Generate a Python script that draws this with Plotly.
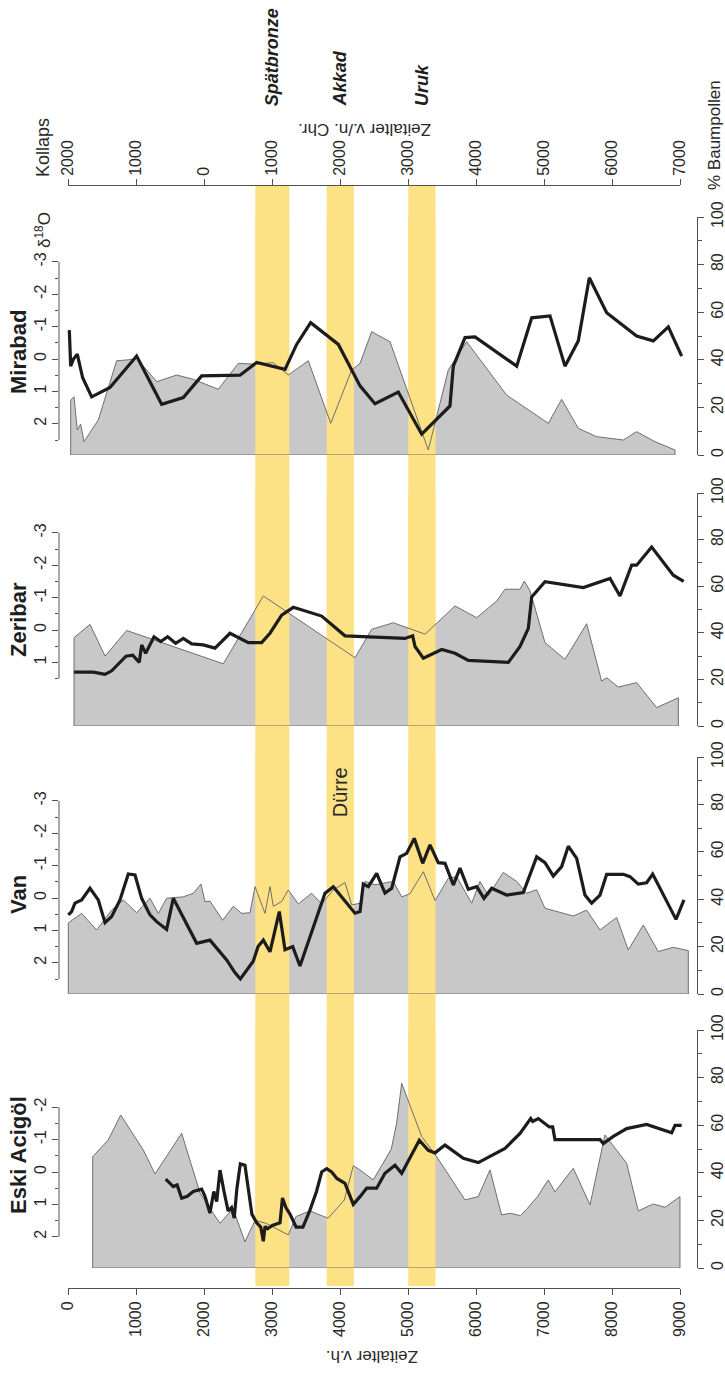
import plotly.graph_objects as go

W, H = 725, 1373

def px(x):
    return x / W

def py(y):
    return 1 - y / H

# ---------------- data ----------------
BAND_NAMES = ["Spätbronze", "Akkad", "Uruk"]
BAND_START = [2750, 3800, 5000]
BAND_END = [3250, 4200, 5400]

AGE_TICKS = [0, 1000, 2000, 3000, 4000, 5000, 6000, 7000, 8000, 9000]
AGE_TICK_LABELS = ["0", "1000", "2000", "3000", "4000", "5000", "6000", "7000", "8000", "9000"]
CHR_TICK_LABELS = ["2000", "1000", "0", "1000", "2000", "3000", "4000", "5000", "6000", "7000"]

PANEL_NAMES = ["Mirabad", "Zeribar", "Van", "Eski Acigöl"]

mirabad_pollen_age = [35, 84, 132, 181, 231, 441, 711, 882, 1005, 1300, 1594, 1838, 2206, 2500, 2721, 3015,
                      3235, 3529, 3859, 4167, 4290, 4461, 4731, 5294, 5588, 5858, 6446, 7059, 7255, 7500,
                      7770, 8162, 8358, 8627, 8922]
mirabad_pollen = [23, 24.5, 10.5, 13, 5.6, 14.7, 39.6, 40, 40.6, 30.8, 33.6, 31.8, 27.6, 38.5, 38.2, 38.8,
                  33.6, 39.6, 13.3, 35.7, 38.5, 51.8, 47.6, 2.1, 35.7, 47.6, 25.2, 13.3, 23.4, 11.2,
                  7.7, 6.3, 9.8, 5.6, 2.1]
mirabad_d18o_age = [15, 35, 74, 132, 211, 344, 613, 1005, 1373, 1691, 1961, 2525, 2770, 3187, 3358, 3564,
                    3971, 4290, 4510, 4853, 5197, 5613, 5662, 5834, 5981, 6594, 6815, 7084, 7304, 7500,
                    7662, 7917, 8358, 8603, 8824, 9020]
mirabad_d18o = [-0.89, 0.22, 0.01, -0.15, 0.58, 1.17, 0.88, -0.09, 1.40, 1.19, 0.52, 0.50, 0.11, 0.32, -0.45,
                -1.12, -0.45, 0.83, 1.38, 1.02, 2.32, 1.45, 0.22, -0.66, -0.68, 0.22, -1.27, -1.33, 0.22,
                -0.56, -2.51, -1.43, -0.71, -0.56, -0.99, -0.09]

zeribar_pollen_age = [84, 319, 540, 859, 2279, 2868, 4216, 4461, 4779, 5246, 5687, 6006, 6300, 6422, 6643,
                      6706, 6790, 7010, 7304, 7623, 7843, 7917, 8088, 8358, 8652, 8971]
zeribar_pollen = [37.9, 43.6, 30, 41, 26.7, 55.8, 29.3, 41.5, 44.3, 39.4, 51.5, 46.5, 53.6, 58.7, 58.7,
                  62.2, 58, 35.8, 28.6, 43.9, 19.3, 20.7, 16.7, 18.6, 7.9, 12.1]
zeribar_d18o_age = [84, 368, 540, 638, 849, 947, 1044, 1079, 1138, 1260, 1359, 1461, 1579, 1691, 1815, 1985,
                    2157, 2378, 2647, 2843, 2966, 3138, 3309, 3726, 4069, 4951, 5064, 5099, 5221, 5491,
                    5687, 5882, 6471, 6643, 6765, 6815, 7010, 7574, 7966, 8113, 8285, 8358, 8579, 8897, 9050]
zeribar_d18o = [1.30, 1.30, 1.37, 1.26, 0.81, 0.78, 1.0, 0.46, 0.72, 0.21, 0.36, 0.21, 0.41, 0.26, 0.43, 0.46,
                0.56, 0.10, 0.39, 0.39, 0.10, -0.46, -0.70, -0.43, 0.18, 0.26, 0.18, 0.51, 0.87, 0.60,
                0.72, 0.94, 1.0, 0.51, -0.05, -1.02, -1.49, -1.31, -1.59, -1.05, -2.0, -2.0, -2.56, -1.69, -1.5]

van_pollen_age = [0, 196, 417, 638, 809, 1005, 1201, 1324, 1446, 1691, 1838, 1951, 2010, 2083, 2270, 2426,
                  2550, 2672, 2746, 2893, 2966, 3015, 3138, 3235, 3382, 3579, 3726, 3897, 4069, 4167, 4290,
                  4363, 4510, 4779, 4903, 5025, 5221, 5393, 5588, 5711, 5932, 6054, 6176, 6397, 6594, 6741,
                  6888, 7010, 7426, 7623, 7819, 8064, 8235, 8456, 8676, 8897, 9118]
van_pollen = [30, 34, 27, 35.4, 39.7, 34.3, 40.4, 34, 40.4, 41, 42.5, 46.4, 39, 39.2, 31.1, 37,
              34, 34.3, 45.3, 34, 45.3, 37, 39, 43.9, 38, 42.5, 38, 43.9, 47, 37.6, 38.3,
              47.5, 46.1, 47.5, 41, 42.3, 51.6, 39.4, 48.8, 49.5, 38.3, 47.5, 41.5, 51.3, 47.5, 42.5,
              44, 36.2, 32.9, 35.4, 27, 32.3, 18.6, 29.1, 17.9, 19.7, 18.3]
van_d18o_age = [0, 49, 98, 196, 319, 441, 540, 638, 760, 882, 981, 1079, 1201, 1299, 1446, 1544, 1888, 2083,
                2329, 2450, 2530, 2650, 2720, 2790, 2868, 2966, 3103, 3187, 3300, 3407, 3775, 3897, 4216,
                4290, 4338, 4412, 4535, 4657, 4756, 4878, 4976, 5088, 5212, 5319, 5441, 5540, 5662, 5760,
                5882, 6006, 6113, 6226, 6446, 6691, 6888, 7010, 7132, 7255, 7353, 7476, 7598, 7696, 7819,
                7917, 8162, 8260, 8382, 8505, 8594, 8937, 9054]
van_d18o = [0.52, 0.42, 0.16, 0.06, -0.30, 0.06, 0.76, 0.57, 0.06, -0.74, -0.71, 0.01, 0.52, 0.73, 0.97, 0.01,
            1.40, 1.30, 1.91, 2.3, 2.5, 2.15, 1.95, 1.5, 1.30, 1.66, 0.42, 1.60, 1.5, 2.1, -0.15, -0.35, 0.47,
            0.42, -0.43, -0.35, -0.76, -0.15, -0.30, -1.27, -1.38, -1.84, -1.07, -1.64, -1.09, -1.07, -0.40,
            -0.92, -0.27, -0.35, 0.01, -0.30, -0.09, -0.17, -1.27, -1.09, -0.68, -0.97, -1.60, -1.22, -0.09,
            0.16, -0.09, -0.73, -0.73, -0.66, -0.43, -0.47, -0.74, 0.66, 0.06]

eski_pollen_age = [359, 588, 770, 1103, 1275, 1667, 1937, 2132, 2231, 2423, 2598, 2746, 2905, 3235, 3347,
                   3551, 3822, 4060, 4191, 4290, 4485, 4750, 4828, 4903, 5197, 5417, 5834, 6029, 6201, 6372,
                   6500, 6650, 6750, 6900, 7059, 7157, 7426, 7672, 7892, 8211, 8382, 8603, 8775, 8995]
eski_pollen = [46.8, 53.8, 64.3, 49.6, 39.5, 56.6, 31.5, 23, 18.8, 25, 11, 20, 18.8, 13.9, 21.6,
               24, 20.9, 28.6, 43, 41.2, 37, 50, 60.8, 77.6, 55.2, 46.8, 28.6, 30, 41.2, 22.3,
               23, 22, 25, 30, 37, 32, 41.9, 26.5, 55.9, 44, 24, 26.9, 25.5, 30]
eski_d18o_age = [1432, 1544, 1600, 1667, 1750, 1838, 1961, 2010, 2083, 2140, 2182, 2231, 2290, 2350, 2400,
                 2440, 2480, 2530, 2598, 2640, 2700, 2770, 2830, 2868, 2893, 2930, 3000, 3113, 3150, 3200,
                 3260, 3350, 3450, 3550, 3650, 3726, 3800, 3873, 3950, 4069, 4191, 4290, 4388, 4535, 4657,
                 4804, 4903, 5162, 5294, 5393, 5540, 5809, 6029, 6422, 6643, 6800, 6830, 6912, 7074, 7123,
                 7157, 7819, 7868, 8015, 8211, 8505, 8873, 8922, 9020]
eski_d18o = [0.22, 0.45, 0.4, 0.81, 0.75, 0.6, 0.53, 0.75, 1.27, 0.6, 0.91, -0.06, 0.6, 1.2, 1.1,
             1.42, 0.5, -0.25, -0.21, 0.4, 1.3, 1.57, 1.7, 2.14, 1.68, 1.75, 1.65, 1.57, 0.8, 1.1,
             1.3, 1.7, 1.7, 1.2, 0.6, 0.0, -0.1, 0.0, 0.2, 0.35, 1.0, 0.76, 0.5, 0.5, 0.04,
             -0.21, 0.04, -0.98, -0.67, -0.59, -0.83, -0.42, -0.29, -0.73, -1.19, -1.65, -1.56, -1.65, -1.39, -1.39,
             -1.0, -1.0, -0.88, -1.1, -1.34, -1.47, -1.21, -1.44, -1.44]

POLLEN_AGES = [mirabad_pollen_age, zeribar_pollen_age, van_pollen_age, eski_pollen_age]
POLLEN_VALUES = [mirabad_pollen, zeribar_pollen, van_pollen, eski_pollen]
D18O_AGES = [mirabad_d18o_age, zeribar_d18o_age, van_d18o_age, eski_d18o_age]
D18O_VALUES = [mirabad_d18o, zeribar_d18o, van_d18o, eski_d18o]
D18O_AXIS_TOP = [-3, -3, -3, -2]
D18O_AXIS_BOTTOM = [2.5, 1.5, 2.5, 2.0]

# ---------------- layout geometry (pixels) ----------------
PANEL_TOP = [217, 493, 757, 1030]
PANEL_BASE = [455, 726, 994, 1268]
D18O_UNIT = 32.4           # px per permil
D18O_ZERO_ABOVE_BASE = 96  # px
X_LEFT, X_RIGHT = 59, 697
AGE0_PX, PX_PER_1000 = 68.3, 68.0
TOP_AXIS_Y, BOTTOM_AXIS_Y = 185, 1288

FONT = "Liberation Sans, Arial, sans-serif"
YELLOW = "rgb(253,225,133)"
GREY_FILL = "rgb(200,200,200)"
GREY_LINE = "rgb(110,110,110)"
AXIS_COL = "rgb(85,80,80)"
TXT = "rgb(40,40,40)"

x_range = [(X_LEFT - AGE0_PX) / PX_PER_1000 * 1000, (X_RIGHT - AGE0_PX) / PX_PER_1000 * 1000]

fig = go.Figure()
layout = dict(
    width=W, height=H, margin=dict(l=0, r=0, t=0, b=0, pad=0, autoexpand=False),
    paper_bgcolor="white", plot_bgcolor="rgba(0,0,0,0)",
    showlegend=False, font=dict(family=FONT, size=16, color=TXT),
)
layout["xaxis"] = dict(domain=[px(X_LEFT), px(X_RIGHT)], range=x_range, visible=False, fixedrange=True)

annotations = []
shapes = []

for i in range(4):
    ya = 2 * i + 1
    yd = 2 * i + 2
    ya_name = "y" if ya == 1 else f"y{ya}"
    yd_name = f"y{yd}"
    top, base = PANEL_TOP[i], PANEL_BASE[i]
    dom = [py(base), py(top)]
    d_bottom = D18O_ZERO_ABOVE_BASE / D18O_UNIT
    d_top = -(base - top - D18O_ZERO_ABOVE_BASE) / D18O_UNIT

    layout["yaxis" if ya == 1 else f"yaxis{ya}"] = dict(
        domain=dom, range=[0, 100], anchor="x", side="right",
        showline=True, linecolor=AXIS_COL, linewidth=1, mirror=False,
        ticks="outside", ticklen=6, tickwidth=1, tickcolor=AXIS_COL,
        tickvals=[0, 20, 40, 60, 80, 100], tickangle=-90,
        tickfont=dict(size=16, color=TXT),
        minor=dict(tickvals=[10, 30, 50, 70, 90], ticks="outside", ticklen=4, tickcolor=AXIS_COL, showgrid=False),
        showgrid=False, zeroline=False, fixedrange=True, automargin=False,
    )
    d_ticks = [v for v in [-3, -2, -1, 0, 1, 2] if D18O_AXIS_TOP[i] <= v <= D18O_AXIS_BOTTOM[i]]
    d_minor = [v + 0.5 for v in range(-3, 3) if D18O_AXIS_TOP[i] <= v + 0.5 <= D18O_AXIS_BOTTOM[i]]
    layout[f"yaxis{yd}"] = dict(
        overlaying=ya_name, anchor="x", side="left", range=[d_bottom, d_top],
        showline=False, ticks="outside", ticklen=6, tickwidth=1, tickcolor=AXIS_COL,
        tickvals=d_ticks, ticktext=[f"{v:g}" for v in d_ticks], tickangle=-90,
        tickfont=dict(size=16, color=TXT),
        minor=dict(tickvals=d_minor, ticks="outside", ticklen=3, tickcolor=AXIS_COL, showgrid=False),
        showgrid=False, zeroline=False, fixedrange=True, automargin=False,
    )
    shapes.append(dict(type="line", xref="paper", yref=yd_name,
                       x0=px(X_LEFT), x1=px(X_LEFT), y0=D18O_AXIS_TOP[i], y1=D18O_AXIS_BOTTOM[i],
                       line=dict(color=AXIS_COL, width=1), layer="above"))

    ages = POLLEN_AGES[i]
    vals = POLLEN_VALUES[i]
    poly_x = [ages[0]] + ages + [ages[-1], ages[0]]
    poly_y = [0] + vals + [0, 0]
    fig.add_trace(go.Scatter(x=poly_x, y=poly_y, xaxis="x", yaxis=ya_name, mode="lines",
                             fill="toself", fillcolor=GREY_FILL, line=dict(width=0), hoverinfo="skip"))
    for s, e in zip(BAND_START, BAND_END):
        fig.add_trace(go.Scatter(x=[s, e, e, s, s], y=[0, 0, 100, 100, 0], xaxis="x", yaxis=ya_name,
                                 mode="lines", fill="toself", fillcolor=YELLOW, line=dict(width=0),
                                 hoverinfo="skip"))
    fig.add_trace(go.Scatter(x=poly_x, y=poly_y, xaxis="x", yaxis=ya_name, mode="lines",
                             line=dict(color=GREY_LINE, width=1), hoverinfo="skip"))
    fig.add_trace(go.Scatter(x=D18O_AGES[i], y=D18O_VALUES[i], xaxis="x", yaxis=yd_name, mode="lines",
                             line=dict(color="rgb(28,28,28)", width=3.2), hoverinfo="skip"))

    name_y = {0: 352, 1: 620, 2: 895, 3: 1155}[i]
    annotations.append(dict(text=f"<b>{PANEL_NAMES[i]}</b>", textangle=-90, xref="paper", yref="paper",
                            x=px(18), y=py(name_y), xanchor="center", yanchor="middle", showarrow=False,
                            font=dict(size=22, color="rgb(30,30,30)", family=FONT)))

for s, e in zip(BAND_START, BAND_END):
    shapes.append(dict(type="rect", xref="x", yref="paper", x0=s, x1=e,
                       y0=py(BOTTOM_AXIS_Y - 2), y1=py(TOP_AXIS_Y + 1),
                       fillcolor=YELLOW, line=dict(width=0), layer="below"))

age_dom = [px(AGE0_PX), px(AGE0_PX + 9 * PX_PER_1000)]
layout["yaxis9"] = dict(domain=[0, 0.001], range=[0, 1], visible=False, fixedrange=True)
layout["xaxis2"] = dict(domain=age_dom, range=[0, 9000], anchor="free", position=py(BOTTOM_AXIS_Y),
                        side="bottom", showline=True, linecolor=AXIS_COL, linewidth=1,
                        ticks="outside", ticklen=6, tickcolor=AXIS_COL, tickvals=AGE_TICKS,
                        ticktext=AGE_TICK_LABELS, tickangle=-90, tickfont=dict(size=16, color=TXT),
                        showgrid=False, zeroline=False, fixedrange=True, automargin=False)
layout["xaxis3"] = dict(domain=age_dom, range=[0, 9000], anchor="free", position=py(TOP_AXIS_Y),
                        side="top", showline=True, linecolor=AXIS_COL, linewidth=1,
                        ticks="outside", ticklen=6, tickcolor=AXIS_COL, tickvals=AGE_TICKS,
                        ticktext=CHR_TICK_LABELS, tickangle=-90, tickfont=dict(size=16, color=TXT),
                        showgrid=False, zeroline=False, fixedrange=True, automargin=False)
fig.add_trace(go.Scatter(x=[None], y=[None], xaxis="x2", yaxis="y9", mode="lines", hoverinfo="skip"))
fig.add_trace(go.Scatter(x=[None], y=[None], xaxis="x3", yaxis="y9", mode="lines", hoverinfo="skip"))

for name, s, e in zip(BAND_NAMES, BAND_START, BAND_END):
    annotations.append(dict(text=f"<b><i>{name}</i></b>", textangle=-90, xref="x", yref="paper",
                            x=(s + e) / 2, y=py(108), xanchor="center", yanchor="bottom", showarrow=False,
                            font=dict(size=18, color="rgb(30,30,30)", family=FONT)))

annotations += [
    dict(text="Kollaps", textangle=-90, xref="paper", yref="paper", x=px(43), y=py(148),
         xanchor="center", yanchor="middle", showarrow=False, font=dict(size=18, color=TXT, family=FONT)),
    dict(text="Zeitalter v./n. Chr.", textangle=180, xref="paper", yref="paper", x=px(364), y=py(130),
         xanchor="center", yanchor="middle", showarrow=False, font=dict(size=17, color=TXT, family=FONT)),
    dict(text="Zeitalter v.h.", textangle=180, xref="paper", yref="paper", x=px(372), y=py(1357),
         xanchor="center", yanchor="middle", showarrow=False, font=dict(size=17, color=TXT, family=FONT)),
    dict(text="% Baumpollen", textangle=-90, xref="paper", yref="paper", x=px(714), y=py(192),
         xanchor="center", yanchor="bottom", showarrow=False, font=dict(size=17, color=TXT, family=FONT)),
    dict(text="δ<sup>18</sup>O", textangle=-90, xref="paper", yref="paper", x=px(43), y=py(230),
         xanchor="center", yanchor="middle", showarrow=False, font=dict(size=17, color=TXT, family=FONT)),
    dict(text="Dürre", textangle=-90, xref="x", yref="paper", x=4000, y=py(792),
         xanchor="center", yanchor="middle", showarrow=False, font=dict(size=20, color=TXT, family=FONT)),
]

layout["annotations"] = annotations
layout["shapes"] = shapes
fig.update_layout(**layout)
fig.write_html(
    "out.html",
    config={"displayModeBar": False, "staticPlot": True},
    post_script="document.body.style.margin='0';document.documentElement.style.overflow='hidden';"
                "document.body.style.overflow='hidden';",
)
